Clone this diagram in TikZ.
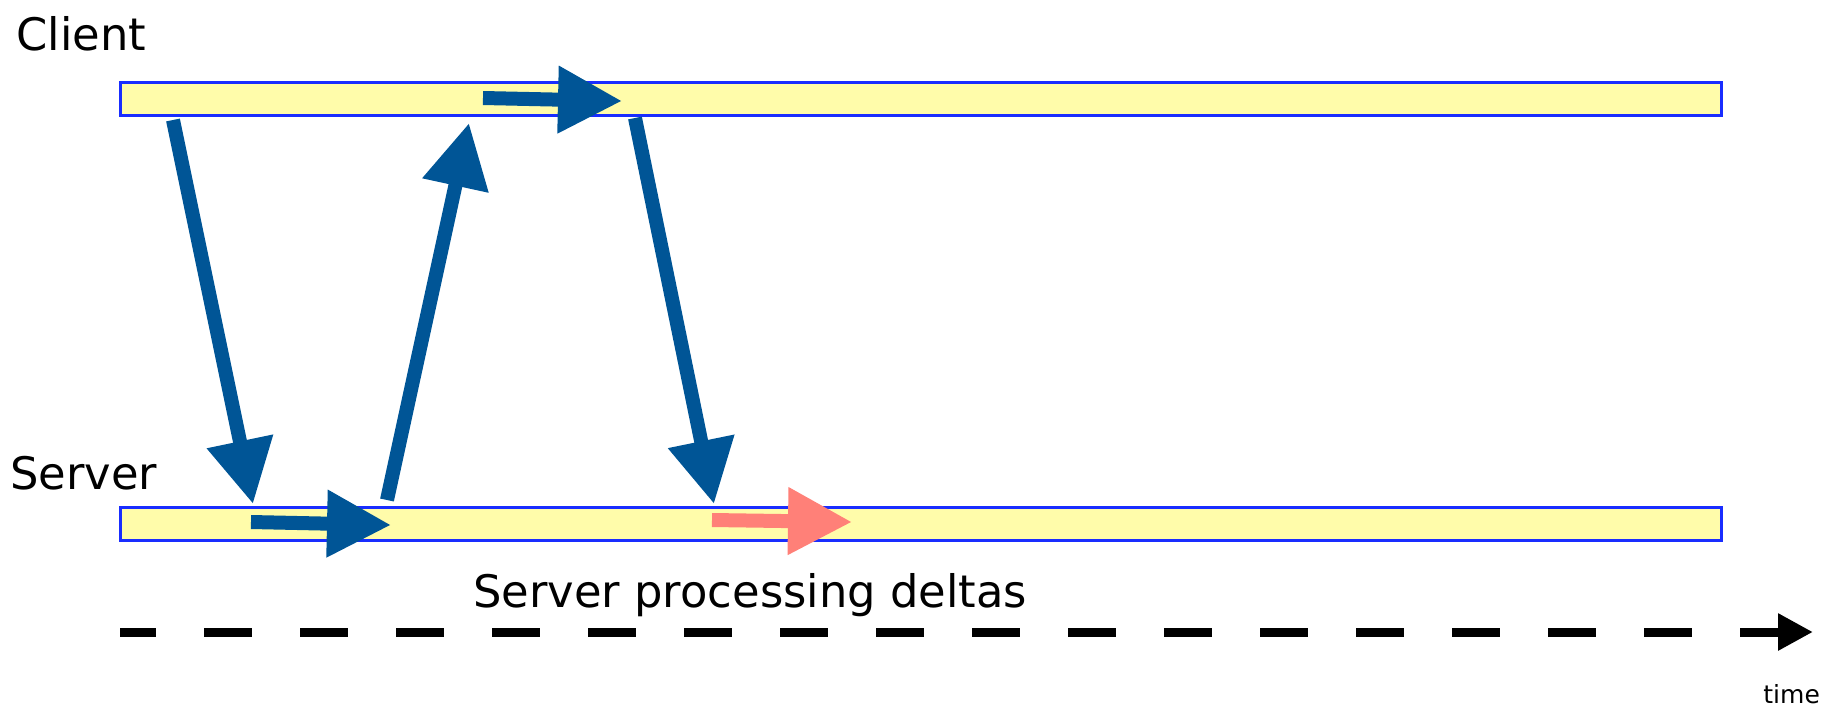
\documentclass[tikz,border=0pt]{standalone}
\usepackage{fontspec}
\setmainfont{DejaVu Sans}
\usetikzlibrary{positioning, arrows.meta}

\definecolor{barfill}{RGB}{255,252,170}
\definecolor{barline}{RGB}{25,45,255}
\definecolor{msgblue}{RGB}{0,85,150}
\definecolor{msgred}{RGB}{255,128,120}

\begin{document}
\begin{tikzpicture}[
    x=0.5pt, y=-0.5pt,
    bar/.style={draw=barline, fill=barfill, line width=1.5pt, inner sep=0pt, minimum width=800.5pt, minimum height=16.5pt},
    msg/.style={draw=msgblue, line width=7pt, -{Triangle[length=32pt, width=32pt]}},
    labelstyle/.style={font=\fontsize{22.4}{26}\selectfont, inner sep=0pt, anchor=base west}
]
\useasboundingbox (0,0) rectangle (1848,708);

% Client and server time lines
\node (client_bar) [bar] at (920.5,99) {};
\node (server_bar) [bar] at (920.5,523.5) {};
\node (client_label) [labelstyle] at (16,50) {Client};
\node (server_label) [labelstyle] at (10,489) {Server};

% Message end points
\coordinate (m1_from) at (173,120);  \coordinate (m1_to) at (253,504);
\coordinate (s1_from) at (251,522);  \coordinate (s1_to) at (391,525);
\coordinate (m2_from) at (387,500);  \coordinate (m2_to) at (469,123);
\coordinate (c1_from) at (483,98);   \coordinate (c1_to) at (622,101);
\coordinate (m3_from) at (635,118);  \coordinate (m3_to) at (714,504);
\coordinate (s2_from) at (712,520);  \coordinate (s2_to) at (852,522);

% Messages between client and server
\draw[msg] (m1_from) -- (m1_to);
\draw[msg] (s1_from) -- (s1_to);
\draw[msg] (m2_from) -- (m2_to);
\draw[msg] (c1_from) -- (c1_to);
\draw[msg] (m3_from) -- (m3_to);
\draw[msg, draw=msgred] (s2_from) -- (s2_to); % delta still being processed

% Time axis
\node (deltas_label) [labelstyle] at (473,607) {Server processing deltas};
\coordinate (axis_start) at (120,632);
\coordinate (axis_end) at (1813,632);
\draw[line width=4.5pt, dash pattern=on 24pt off 24pt, dash phase=6pt, -{Triangle[length=17.5pt, width=17.5pt]}] (axis_start) -- (axis_end);
\node (time_label) [labelstyle, font=\fontsize{12.5}{15}\selectfont] at (1763,703) {time};

\end{tikzpicture}
\end{document}
